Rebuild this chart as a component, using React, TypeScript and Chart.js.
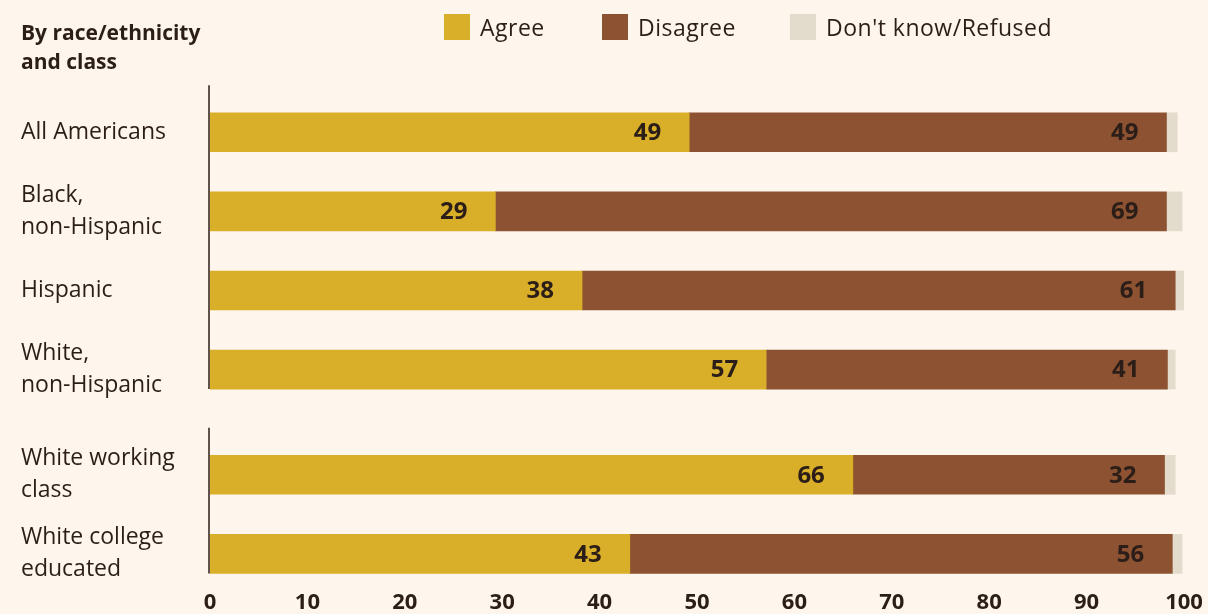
import React, { useEffect, useRef } from "react";
import { Chart, registerables } from "chart.js";

Chart.register(...registerables);

const categories: string[][] = [
  ["All Americans"],
  ["Black,", "non-Hispanic"],
  ["Hispanic"],
  ["White,", "non-Hispanic"],
  ["White working", "class"],
  ["White college", "educated"],
];
const groups = [0, 0, 0, 0, 1, 1];
const agree = [49.2, 29.3, 38.2, 57.1, 66.0, 43.1];
const disagree = [49.0, 68.9, 60.9, 41.2, 32.0, 55.7];
const dontKnow = [1.1, 1.6, 0.9, 0.8, 1.1, 1.0];
const seriesNames = ["Agree", "Disagree", "Don't know/Refused"];
const colors = ["#D9AE28", "#8C5231", "#E3DBCB"];
const xTicks = [0, 10, 20, 30, 40, 50, 60, 70, 80, 90, 100];

const TEXT = "#2B1D17";
const BG = "#FEF5EC";
const FONT = "'Open Sans', 'Noto Sans', sans-serif";
const GROUP_GAP = 0.33;
const positions = categories.map((_, i) => i + groups[i] * GROUP_GAP);
const legendLefts = [444, 602, 790];

export default function App() {
  const ref = useRef<HTMLCanvasElement | null>(null);

  useEffect(() => {
    if (!ref.current) return;
    const series = [agree, disagree, dontKnow];

    const labelPlugin = {
      id: "valueLabels",
      afterDatasetsDraw(chart: any) {
        const ctx = chart.ctx;
        ctx.save();
        ctx.font = `bold 24px ${FONT}`;
        ctx.fillStyle = TEXT;
        ctx.textAlign = "right";
        ctx.textBaseline = "middle";
        [0, 1].forEach((di) => {
          const meta = chart.getDatasetMeta(di);
          meta.data.forEach((el: any, i: number) => {
            ctx.fillText(String(Math.round(series[di][i])), el.x - 28, el.y + 1);
          });
        });
        ctx.restore();
      },
    };

    const axisLinePlugin = {
      id: "groupAxisLines",
      afterDatasetsDraw(chart: any) {
        const ctx = chart.ctx;
        const y = chart.scales.y;
        const x0 = chart.chartArea.left - 1;
        const uniq = Array.from(new Set(groups));
        ctx.save();
        ctx.strokeStyle = TEXT;
        ctx.lineWidth = 1.5;
        uniq.forEach((g) => {
          const idx = groups.map((gg, i) => (gg === g ? i : -1)).filter((i) => i >= 0);
          const top = y.getPixelForValue(positions[idx[0]]) - 47;
          const bottom = y.getPixelForValue(positions[idx[idx.length - 1]]) + 19.5;
          ctx.beginPath();
          ctx.moveTo(x0, top);
          ctx.lineTo(x0, bottom);
          ctx.stroke();
        });
        ctx.restore();
      },
    };

    const chart = new Chart(ref.current, {
      type: "bar",
      data: {
        datasets: series.map((vals, di) => ({
          label: seriesNames[di],
          data: vals.map((v, i) => ({ x: v, y: positions[i] })),
          backgroundColor: colors[di],
          borderWidth: 0,
          barThickness: 39,
        })),
      },
      options: {
        indexAxis: "y",
        animation: false,
        responsive: false,
        maintainAspectRatio: false,
        layout: { padding: { left: 21, right: 24, top: 69, bottom: 0 } },
        plugins: { legend: { display: false }, tooltip: { enabled: false } },
        scales: {
          x: {
            type: "linear",
            stacked: true,
            min: 0,
            max: 100,
            offset: false,
            grid: { display: false, drawTicks: false },
            border: { display: false },
            afterBuildTicks: (s: any) => {
              s.ticks = xTicks.map((v) => ({ value: v }));
            },
            afterFit: (s: any) => {
              s.height = 34;
              s.paddingLeft = 0;
              s.paddingRight = 0;
            },
            ticks: {
              padding: 10,
              color: TEXT,
              font: { family: FONT, size: 22, weight: "bold" },
              maxRotation: 0,
            },
          },
          y: {
            type: "linear",
            stacked: true,
            reverse: true,
            offset: false,
            min: -0.8,
            max: 5.66,
            grid: { display: false, drawTicks: false },
            border: { display: false },
            afterBuildTicks: (s: any) => {
              s.ticks = positions.map((v) => ({ value: v }));
            },
            afterFit: (s: any) => {
              s.width = 189;
              s.paddingTop = 0;
              s.paddingBottom = 0;
            },
            ticks: {
              crossAlign: "far",
              color: TEXT,
              font: { family: FONT, size: 23, lineHeight: 1.39 },
              callback: (v: any) => {
                const i = positions.findIndex((p) => Math.abs(p - v) < 1e-6);
                return i >= 0 ? categories[i] : "";
              },
            },
          },
        },
      },
      plugins: [labelPlugin, axisLinePlugin],
    } as any);
    return () => chart.destroy();
  }, []);

  return (
    <div
      style={{
        position: "fixed",
        left: 0,
        top: 0,
        width: 1208,
        height: 614,
        background: BG,
        fontFamily: FONT,
        color: TEXT,
        overflow: "hidden",
      }}
    >
      <canvas ref={ref} width={1208} height={614} style={{ position: "absolute", left: 0, top: 0 }} />
      <div
        style={{
          position: "absolute",
          left: 21,
          top: 18,
          fontWeight: "bold",
          fontSize: 21,
          lineHeight: "29px",
        }}
      >
        By race/ethnicity
        <br />
        and class
      </div>
      {seriesNames.map((n, i) => (
        <div
          key={n}
          style={{
            position: "absolute",
            left: legendLefts[i],
            top: 12,
            display: "flex",
            alignItems: "center",
            fontSize: 23,
            lineHeight: "30px",
            letterSpacing: "0.5px",
            whiteSpace: "nowrap",
          }}
        >
          <span style={{ display: "inline-block", width: 26, height: 26, background: colors[i], marginRight: 10 }} />
          <span>{n}</span>
        </div>
      ))}
    </div>
  );
}
